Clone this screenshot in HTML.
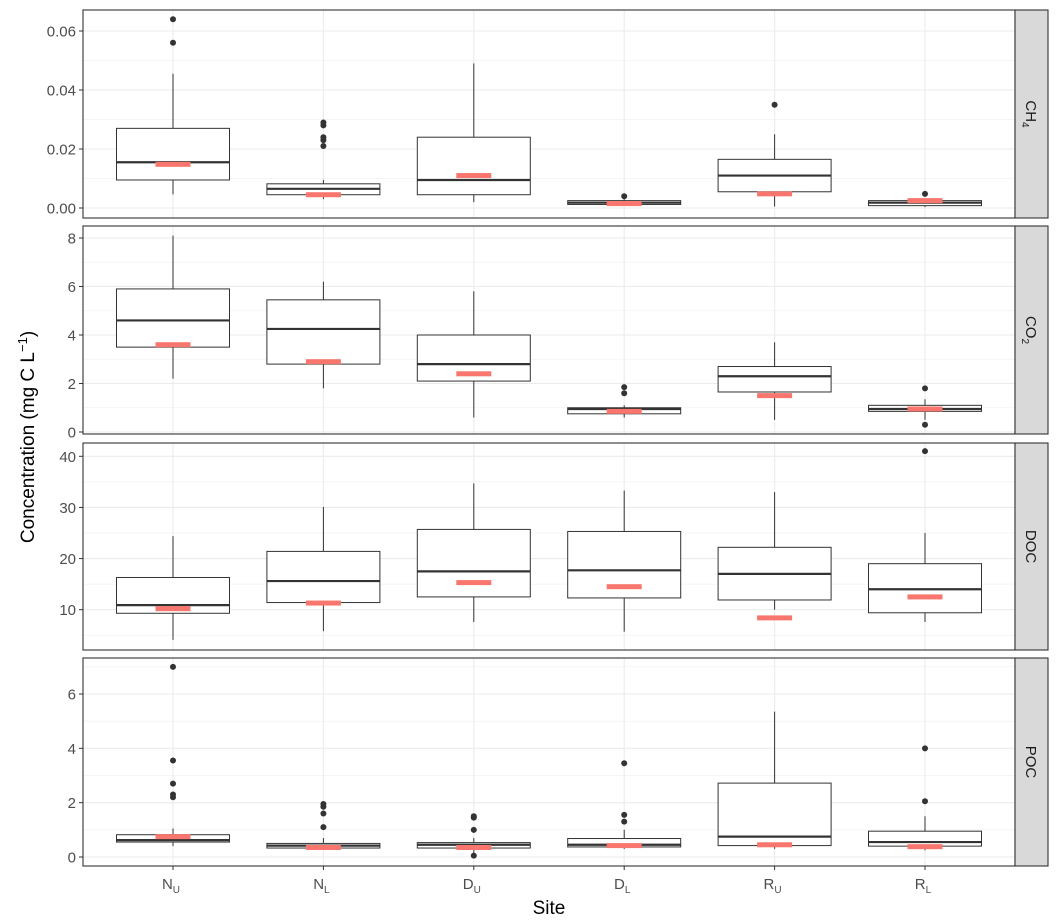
<!DOCTYPE html>
<html><head><meta charset="utf-8"><style>
body{margin:0;background:#fff;}
svg{display:block;font-family:"Liberation Sans",Arial,sans-serif;}
</style></head><body>
<svg id="chart" width="1058" height="923" viewBox="0 0 1058 923" xmlns="http://www.w3.org/2000/svg">
<text transform="translate(34,437) rotate(-90)" text-anchor="middle" font-size="19" fill="#000">Concentration (mg C L<tspan dy="-7" font-size="13">−1</tspan><tspan dy="7">)</tspan></text>
<text x="549" y="914" text-anchor="middle" font-size="19" fill="#000">Site</text>
</svg>
<script>
const categories = ["N_U","N_L","D_U","D_L","R_U","R_L"];
const labelMain = ["N","N","D","D","R","R"];
const labelSub = ["U","L","U","L","U","L"];
const panelNames = ["CH4","CO2","DOC","POC"];
// [lo, q1, median, q3, hi]
const ch4Box = [[0.0046,0.0095,0.0155,0.027,0.0455],[0.003,0.0045,0.0065,0.0082,0.0095],[0.002,0.0045,0.0095,0.024,0.049],[0.0008,0.0012,0.0018,0.0025,0.003],[0.0005,0.0055,0.011,0.0165,0.025],[0.0003,0.0008,0.0018,0.0025,0.003]];
const ch4Out = [[0.056,0.064],[0.021,0.023,0.024,0.028,0.029],[],[0.004],[0.035],[0.0048]];
const ch4Mean = [0.0148,0.0045,0.011,0.0015,0.0048,0.0025];
const co2Box = [[2.2,3.5,4.6,5.9,8.1],[1.8,2.8,4.25,5.45,6.2],[0.6,2.1,2.8,4.0,5.8],[0.6,0.75,0.95,1.0,1.1],[0.5,1.65,2.3,2.7,3.7],[0.5,0.85,0.95,1.1,1.35]];
const co2Out = [[],[],[],[1.6,1.85],[],[1.8,0.3]];
const co2Mean = [3.6,2.9,2.4,0.85,1.5,0.95];
const docBox = [[4.1,9.3,10.9,16.3,24.4],[5.8,11.4,15.6,21.4,30.1],[7.6,12.5,17.5,25.7,34.7],[5.7,12.3,17.7,25.3,33.3],[10,11.9,17,22.2,33],[7.6,9.4,14,19,25]];
const docOut = [[],[],[],[],[],[41]];
const docMean = [10.2,11.3,15.3,14.5,8.4,12.5];
const pocBox = [[0.4,0.55,0.62,0.82,1.05],[0.3,0.33,0.42,0.5,0.7],[0.15,0.33,0.45,0.53,0.7],[0.3,0.37,0.45,0.68,1.0],[0.3,0.42,0.75,2.72,5.35],[0.25,0.4,0.55,0.95,1.5]];
const pocOut = [[2.2,2.3,2.7,3.55,7.0],[1.1,1.6,1.85,1.95],[1.0,1.45,1.5,0.05],[1.3,1.55,3.45],[],[2.05,4.0]];
const pocMean = [0.75,0.35,0.35,0.42,0.45,0.38];
const ch4Ticks = [0,0.02,0.04,0.06];
const co2Ticks = [0,2,4,6,8];
const docTicks = [10,20,30,40];
const pocTicks = [0,2,4,6];
const ch4Labels = ["0.00","0.02","0.04","0.06"];
const co2Labels = ["0","2","4","6","8"];
const docLabels = ["10","20","30","40"];
const pocLabels = ["0","2","4","6"];

const NS="http://www.w3.org/2000/svg";
const svg=document.getElementById('chart');
function mk(tag,attrs,parent){const e=document.createElementNS(NS,tag);for(const k in attrs)e.setAttribute(k,attrs[k]);(parent||svg).appendChild(e);return e;}
const X0=83,X1=1015;
function xScale(i){return 173+i*150.4;}
const defs=mk('defs',{});
const panels=[
 {top:10,bot:218,v0:0,p0:208,v1:0.06,p1:31,box:ch4Box,out:ch4Out,mean:ch4Mean,ticks:ch4Ticks,labels:ch4Labels},
 {top:226,bot:434,v0:0,p0:432,v1:8,p1:238,box:co2Box,out:co2Out,mean:co2Mean,ticks:co2Ticks,labels:co2Labels},
 {top:443,bot:650,v0:10,p0:609.7,v1:40,p1:456.3,box:docBox,out:docOut,mean:docMean,ticks:docTicks,labels:docLabels},
 {top:658,bot:866,v0:0,p0:857,v1:6,p1:694,box:pocBox,out:pocOut,mean:pocMean,ticks:pocTicks,labels:pocLabels}
];
panels.forEach((P,pi)=>{
 const y=v=>P.p0+(v-P.v0)*(P.p1-P.p0)/(P.v1-P.v0);
 const cp=mk('clipPath',{id:'clip'+pi},defs);
 mk('rect',{x:X0,y:P.top,width:X1-X0,height:P.bot-P.top},cp);
 const g=mk('g',{});
 
 
 mk('rect',{x:X0,y:P.top,width:X1-X0,height:P.bot-P.top,fill:'#fff'},g);
 const inner=mk('g',{'clip-path':'url(#clip'+pi+')'},g);
 const step=P.ticks[1]-P.ticks[0];
 for(let k=-1;k<P.ticks.length;k++){
   const mv=P.ticks[0]+(k+0.5)*step; const my=y(mv);
   if(my>P.top&&my<P.bot) mk('line',{x1:X0,x2:X1,y1:my,y2:my,stroke:'#f2f2f2','stroke-width':0.8},inner);
 }
 P.ticks.forEach((t,k)=>{
   const ty=y(t);
   const gl=mk('line',{x1:X0,x2:X1,y1:ty,y2:ty,stroke:'#ebebeb','stroke-width':1.1},inner);
   
   
   mk('line',{x1:X0-4,x2:X0,y1:ty,y2:ty,stroke:'#333','stroke-width':1},g);
   const tl=mk('text',{x:X0-7,y:ty+5.5,'text-anchor':'end','font-size':15,fill:'#4d4d4d'},g);
   
   
   tl.textContent=P.labels[k];
 });
 categories.forEach((c,i)=>mk('line',{x1:xScale(i),x2:xScale(i),y1:P.top,y2:P.bot,stroke:'#ebebeb','stroke-width':1.1},inner));
 categories.forEach((c,i)=>{
   const b=P.box[i],cx=xScale(i),hw=56.5;
   const bg=mk('g',{},inner);
   
   
   mk('line',{x1:cx,x2:cx,y1:y(b[0]),y2:y(b[1]),stroke:'#333','stroke-width':1},bg);
   mk('line',{x1:cx,x2:cx,y1:y(b[3]),y2:y(b[4]),stroke:'#333','stroke-width':1},bg);
   mk('rect',{x:cx-hw,y:y(b[3]),width:2*hw,height:Math.max(1,y(b[1])-y(b[3])),fill:'#fff',stroke:'#333','stroke-width':1},bg);
   mk('line',{x1:cx-hw,x2:cx+hw,y1:y(b[2]),y2:y(b[2]),stroke:'#333','stroke-width':2.2},bg);
   P.out[i].forEach(o=>{
     const d=mk('circle',{cx:cx,cy:y(o),r:3,fill:'#333'},bg);
     
     
   });
   const m=mk('rect',{x:cx-17.5,y:y(P.mean[i])-2.5,width:35,height:5,fill:'#F8766D'},bg);
   
   
 });
 mk('rect',{x:X0,y:P.top,width:X1-X0,height:P.bot-P.top,fill:'none',stroke:'#333','stroke-width':1.1},g);
 const st=mk('rect',{x:X1,y:P.top,width:33,height:P.bot-P.top,fill:'#d9d9d9',stroke:'#333','stroke-width':1.1},g);
 
 
 const cy=(P.top+P.bot)/2;
 const t=mk('text',{transform:`translate(1026,${cy}) rotate(90)`,'text-anchor':'middle','font-size':15,fill:'#1a1a1a'},g);
 
 
 const nm=panelNames[pi];
 if(nm==='CH4'||nm==='CO2'){t.innerHTML=nm.slice(0,2)+'<tspan dy="4" font-size="10">'+nm[2]+'</tspan>';}
 else t.textContent=nm;
});
categories.forEach((c,i)=>{
 const cx=xScale(i);
 mk('line',{x1:cx,x2:cx,y1:866,y2:870,stroke:'#333','stroke-width':1});
 const t=mk('text',{x:cx-2,y:889,'text-anchor':'middle','font-size':15,fill:'#4d4d4d'});
 
 
 t.innerHTML=labelMain[i]+'<tspan dy="4" font-size="10">'+labelSub[i]+'</tspan>';
});
</script>
</body></html>
